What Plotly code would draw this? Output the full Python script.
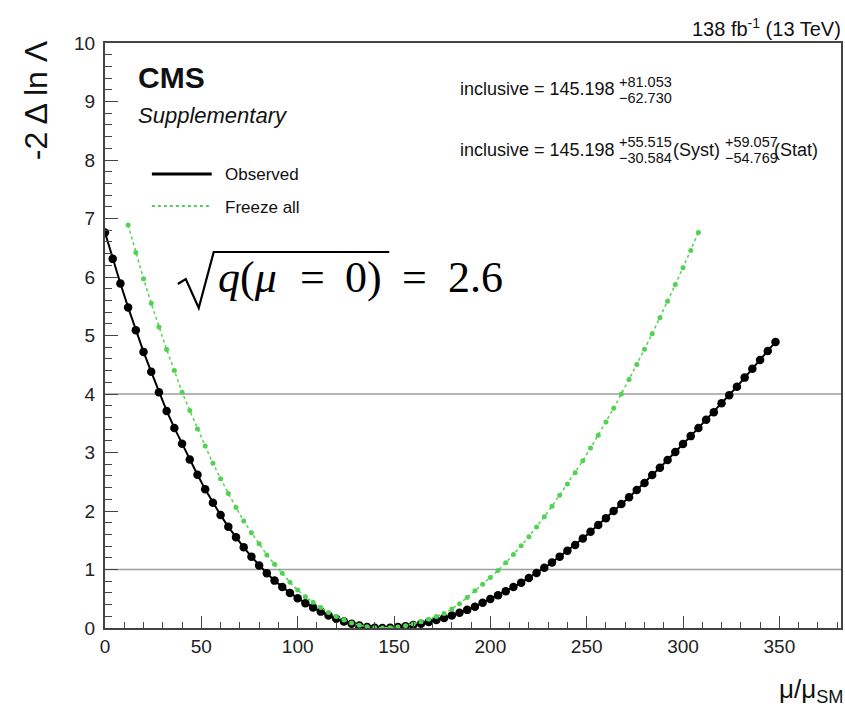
import plotly.graph_objects as go

# ---------------- data ----------------
obs_x = [0, 4, 8, 12, 16, 20, 24, 28, 32, 36, 40, 44, 48, 52, 56, 60, 64, 68, 72, 76,
         80, 84, 88, 92, 96, 100, 104, 108, 112, 116, 120, 124, 128, 132, 136, 140, 144, 148, 152, 156,
         160, 164, 168, 172, 176, 180, 184, 188, 192, 196, 200, 204, 208, 212, 216, 220, 224, 228, 232, 236,
         240, 244, 248, 252, 256, 260, 264, 268, 272, 276, 280, 284, 288, 292, 296, 300, 304, 308, 312, 316,
         320, 324, 328, 332, 336, 340, 344, 348]
obs_y = [6.76, 6.31, 5.89, 5.48, 5.09, 4.72, 4.38, 4.03, 3.71, 3.42, 3.15, 2.88, 2.62, 2.37, 2.14, 1.93, 1.73, 1.55, 1.38, 1.22,
         1.07, 0.935, 0.81, 0.70, 0.60, 0.51, 0.425, 0.35, 0.28, 0.215, 0.16, 0.112, 0.072, 0.041, 0.019, 0.005, 0.0, 0.004, 0.015, 0.03,
         0.05, 0.074, 0.102, 0.135, 0.172, 0.215, 0.26, 0.31, 0.365, 0.43, 0.495, 0.56, 0.63, 0.70, 0.775, 0.855, 0.94, 1.03, 1.12, 1.22,
         1.32, 1.42, 1.53, 1.645, 1.76, 1.875, 2.0, 2.12, 2.235, 2.36, 2.48, 2.615, 2.74, 2.87, 3.01, 3.145, 3.28, 3.42, 3.56, 3.69,
         3.84, 3.98, 4.125, 4.28, 4.43, 4.58, 4.735, 4.89]

frz_x = [12, 16, 20, 24, 28, 32, 36, 40, 44, 48, 52, 56, 60, 64, 68, 72, 76, 80, 84, 88,
         92, 96, 100, 104, 108, 112, 116, 120, 124, 128, 132, 136, 140, 144, 148, 152, 156, 160, 164, 168,
         172, 176, 180, 184, 188, 192, 196, 200, 204, 208, 212, 216, 220, 224, 228, 232, 236, 240, 244, 248,
         252, 256, 260, 264, 268, 272, 276, 280, 284, 288, 292, 296, 300, 304, 308]
frz_y = [6.89, 6.42, 5.97, 5.55, 5.145, 4.76, 4.40, 4.03, 3.72, 3.40, 3.11, 2.815, 2.55, 2.30, 2.06, 1.83, 1.63, 1.44, 1.25, 1.09,
         0.935, 0.78, 0.65, 0.535, 0.44, 0.35, 0.265, 0.195, 0.135, 0.085, 0.047, 0.02, 0.005, 0.0, 0.004, 0.018, 0.04, 0.07, 0.105, 0.148,
         0.198, 0.25, 0.325, 0.415, 0.52, 0.635, 0.75, 0.865, 0.985, 1.115, 1.255, 1.405, 1.56, 1.725, 1.9, 2.08, 2.27, 2.46, 2.655, 2.86,
         3.075, 3.295, 3.52, 3.755, 4.0, 4.25, 4.505, 4.765, 5.03, 5.305, 5.585, 5.87, 6.16, 6.455, 6.76]

ref_levels = [1, 4]
x_ticks = [0, 50, 100, 150, 200, 250, 300, 350]
y_ticks = [0, 1, 2, 3, 4, 5, 6, 7, 8, 9, 10]
series_names = ["Observed", "Freeze all"]

# ---------------- layout geometry (pixels) ----------------
W, H = 845, 711
L, R, T, B = 105, 2, 43, 83
PW, PH = W - L - R, H - T - B


def px(x):
    return (x - L) / PW


def py(y):
    return (H - B - y) / PH


SANS = "Liberation Sans, Arial, Helvetica, sans-serif"
SERIF = "Liberation Serif, Times New Roman, serif"
GREEN = "#52d252"

fig = go.Figure()

fig.add_trace(go.Scatter(
    x=obs_x, y=obs_y, mode="lines+markers", name=series_names[0], showlegend=False,
    line=dict(color="black", width=2),
    marker=dict(color="black", size=8.5, symbol="circle"),
))
fig.add_trace(go.Scatter(
    x=frz_x, y=frz_y, mode="lines+markers", name=series_names[1], showlegend=False,
    line=dict(color=GREEN, width=1.5, dash="dot"),
    marker=dict(color=GREEN, size=5, symbol="circle"),
))

for lv in ref_levels:
    fig.add_hline(y=lv, line_color="#9c9c9c", line_width=1.5, layer="below")

fig.update_layout(
    width=W, height=H,
    margin=dict(l=L, r=R, t=T, b=B, pad=0),
    paper_bgcolor="white", plot_bgcolor="white",
    showlegend=False,
    font=dict(family=SANS, color="#222"),
)

fig.update_xaxes(
    range=[0, 382], tickvals=x_ticks, ticktext=[str(v) for v in x_ticks],
    showgrid=False, zeroline=False,
    showline=True, linecolor="#444", linewidth=2, mirror=True,
    ticks="inside", ticklen=12, tickwidth=1.3, tickcolor="#444",
    minor=dict(ticks="inside", ticklen=6, dtick=10, tickwidth=1.3, tickcolor="#444", showgrid=False),
    tickfont=dict(family=SANS, size=19, color="#222"),
    ticklabelstandoff=0,
)
fig.update_yaxes(
    range=[0, 10], tickvals=y_ticks, ticktext=[str(v) for v in y_ticks],
    showgrid=False, zeroline=False,
    showline=True, linecolor="#444", linewidth=2, mirror=True,
    ticks="inside", ticklen=13, tickwidth=1.3, tickcolor="#444",
    minor=dict(ticks="inside", ticklen=7, dtick=0.2, tickwidth=1.3, tickcolor="#444", showgrid=False),
    tickfont=dict(family=SANS, size=19, color="#222"),
    ticklabelstandoff=4,
)

ann = []


def add_text(text, x, y, size, xanchor="left", yanchor="middle", family=SANS, angle=0, color="#111"):
    ann.append(dict(text=text, x=px(x), y=py(y), xref="paper", yref="paper",
                    xanchor=xanchor, yanchor=yanchor, showarrow=False, textangle=angle,
                    font=dict(family=family, size=size, color=color), borderpad=0))


# header / labels
add_text("138 fb<sup>-1</sup> (13 TeV)", 844, 27, 20, xanchor="right")
add_text("<b>CMS</b>", 137, 77, 30)
add_text("<i>Supplementary</i>", 137, 115, 22)
add_text("-2 \u0394 ln \u039b", 36, 39, 32, xanchor="center", yanchor="top", angle=-90)
add_text("\u03bc/\u03bc<sub>SM</sub>", 846, 690, 26, xanchor="right")

# legend
add_text(series_names[0], 224, 174, 17)
add_text(series_names[1], 224, 207, 17)

# results
add_text("inclusive = 145.198", 460, 89, 18)
add_text("+81.053", 619, 82, 14.5)
add_text("\u221262.730", 619, 98, 14.5)
add_text("inclusive = 145.198", 460, 150, 18)
add_text("+55.515", 619, 142, 14.5)
add_text("\u221230.584", 619, 158, 14.5)
add_text("(Syst)", 674, 150, 18)
add_text("+59.057", 726, 142, 14.5)
add_text("\u221254.769", 726, 158, 14.5)
add_text("(Stat)", 775, 150, 18)

# significance formula (pieces placed to mimic TeX spacing)
FY, FS = 277, 44
add_text("<i>q</i>(<i>\u03bc</i>", 217, FY, FS, family=SERIF, color="black")
add_text("=", 300, FY, FS, family=SERIF, color="black")
add_text("0)", 345, FY, FS, family=SERIF, color="black")
add_text("=", 402, FY, FS, family=SERIF, color="black")
add_text("2.6", 448, FY, FS, family=SERIF, color="black")

fig.update_layout(annotations=ann)

radical = "M {} {} L {} {} L {} {} L {} {} L {} {}".format(
    px(178), py(284), px(186), py(279), px(199), py(308), px(214), py(252), px(390), py(252))

shapes = [
    dict(type="line", xref="paper", yref="paper", x0=px(152), x1=px(212), y0=py(174), y1=py(174),
         line=dict(color="black", width=3)),
    dict(type="line", xref="paper", yref="paper", x0=px(152), x1=px(212), y0=py(206), y1=py(206),
         line=dict(color=GREEN, width=2, dash="dot")),
    dict(type="path", xref="paper", yref="paper", path=radical,
         line=dict(color="black", width=2.2)),
]
for s in shapes:
    fig.add_shape(**s)

fig.write_html("out.html")
